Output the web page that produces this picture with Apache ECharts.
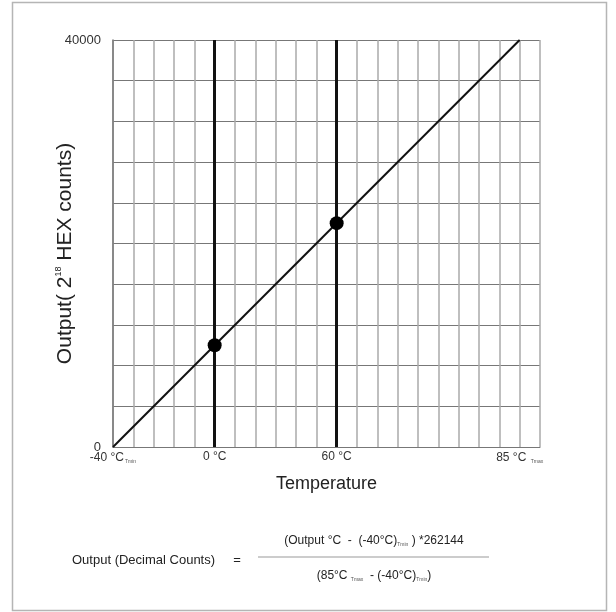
<!DOCTYPE html>
<html>
<head>
<meta charset="utf-8">
<script src="https://cdn.jsdelivr.net/npm/echarts@6/dist/echarts.min.js"></script>
<style>
  html, body { margin: 0; padding: 0; background: #fff; }
  #chart { width: 616px; height: 612px; }
</style>
</head>
<body>
<div id="chart"></div>
<script>
// tick labels, one per grid column (schematic, not to scale)
const xTickLabels = ['-40 °C{sub|Tmin}', '', '', '', '', '0 °C', '', '', '', '', '', '60 °C',
  '', '', '', '', '', '', '', '', '85 °C {sub|Tmax}', '']
const yTickLabels = ['0', '', '', '', '', '', '', '', '', '', '40000']

// transfer line: from -40 °C (column 0) to 85 °C (column 20)
const lineX = [0, 20]
const lineY = [0, 40000]

// marked temperatures 0 °C and 60 °C
const markCols = [5, 11]
const markY = [10000, 22000]

const font = 'Liberation Sans, Arial, sans-serif'
const chart = echarts.init(document.getElementById('chart'))

chart.setOption({
  animation: false,
  backgroundColor: '#fff',
  textStyle: { fontFamily: font },
  grid: { left: 113, right: 76, top: 40, bottom: 165 },
  xAxis: {
    type: 'value',
    min: 0,
    max: 21,
    interval: 1,
    name: 'Temperature',
    nameLocation: 'middle',
    nameGap: 28,
    nameMoveOverlap: false,
    nameTextStyle: { fontSize: 18, color: '#222', fontFamily: font },
    axisLine: { show: true, lineStyle: { color: '#777', width: 1 } },
    axisTick: { show: false },
    splitLine: { show: true, lineStyle: { color: '#aaa', width: 1.5 } },
    axisLabel: {
      margin: 4,
      fontSize: 12,
      color: '#333',
      showMinLabel: true,
      showMaxLabel: true,
      formatter: v => xTickLabels[v] || '',
      rich: { sub: { fontSize: 5, color: '#555', padding: [8, 0, 0, 1] } }
    }
  },
  yAxis: {
    type: 'value',
    min: 0,
    max: 40000,
    interval: 4000,
    name: 'Output( 2{sup|18} HEX counts)',
    nameLocation: 'middle',
    nameGap: 36,
    nameMoveOverlap: false,
    nameTextStyle: {
      fontSize: 21,
      color: '#222',
      fontFamily: font,
      padding: [0, 20, 0, 0],
      rich: { sup: { fontSize: 9, color: '#222', verticalAlign: 'top', padding: [0, 0, 14, 0] } }
    },
    axisLine: { show: true, lineStyle: { color: '#777', width: 1.5 } },
    axisTick: { show: false },
    splitLine: { show: true, lineStyle: { color: '#777', width: 1.2 } },
    axisLabel: {
      margin: 12,
      fontSize: 13,
      color: '#333',
      showMinLabel: true,
      showMaxLabel: true,
      formatter: v => yTickLabels[v / 4000] || ''
    }
  },
  series: [
    {
      type: 'line',
      data: lineX.map((x, i) => [x, lineY[i]]),
      symbol: 'none',
      lineStyle: { color: '#111', width: 2 },
      markLine: {
        silent: true,
        symbol: 'none',
        label: { show: false },
        lineStyle: { color: '#111', width: 3, type: 'solid' },
        data: markCols.map(c => ({ xAxis: c }))
      },
      z: 3
    },
    {
      type: 'scatter',
      data: markCols.map((x, i) => [x, markY[i]]),
      symbolSize: 14,
      itemStyle: { color: '#000', opacity: 1 },
      z: 5
    }
  ],
  graphic: [
    {
      type: 'rect',
      shape: { x: 12.5, y: 2.5, width: 594, height: 608 },
      style: { fill: 'none', stroke: '#b5b5b5', lineWidth: 1.5 },
      silent: true
    },
    {
      type: 'text',
      x: 72,
      y: 560,
      style: { text: 'Output (Decimal Counts)', font: '13px ' + font, fill: '#222', verticalAlign: 'middle' }
    },
    {
      type: 'text',
      x: 237,
      y: 560,
      style: { text: '=', font: '13px ' + font, fill: '#222', align: 'center', verticalAlign: 'middle' }
    },
    {
      type: 'text',
      x: 374,
      y: 541,
      style: {
        text: '(Output °C  -  (-40°C){sub|Tmin} ) *262144',
        font: '12px ' + font,
        fill: '#222',
        align: 'center',
        verticalAlign: 'middle',
        rich: { sub: { fontSize: 5, fill: '#555', padding: [7, 0, 0, 0] } }
      }
    },
    {
      type: 'line',
      shape: { x1: 258, y1: 557, x2: 489, y2: 557 },
      style: { stroke: '#999', lineWidth: 1.2 }
    },
    {
      type: 'text',
      x: 374,
      y: 576,
      style: {
        text: '(85°C {sub|Tmax}  - (-40°C){sub|Tmin})',
        font: '12px ' + font,
        fill: '#222',
        align: 'center',
        verticalAlign: 'middle',
        rich: { sub: { fontSize: 5, fill: '#555', padding: [7, 0, 0, 0] } }
      }
    }
  ]
})
</script>
</body>
</html>
